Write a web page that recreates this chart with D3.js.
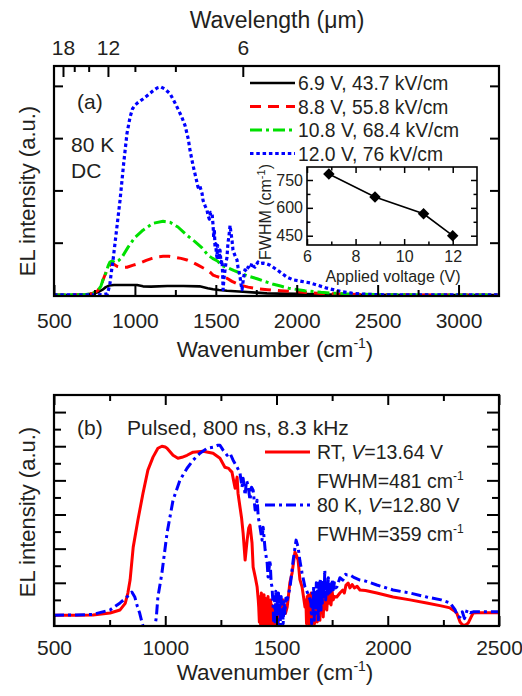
<!DOCTYPE html>
<html>
<head>
<meta charset="utf-8">
<script src="https://cdn.jsdelivr.net/npm/d3@7"></script>
<style>
  body { margin: 0; background: #fff; }
  svg text { font-family: "Liberation Sans", Arial, sans-serif; fill: #231f20; }
</style>
</head>
<body>
<svg id="fig" width="522" height="696"></svg>
<script>
// ---------- data: DC electroluminescence at 80 K (wavenumber cm^-1, intensity a.u.) ----------
const dc69 = [[500,0],[650,0.003],[700,0.01],[740,0.025],[770,0.05],[800,0.1],[820,0.15],[840,0.18],[870,0.19],[950,0.19],[1013,0.19],[1050,0.165],[1100,0.16],[1200,0.17],[1300,0.17],[1400,0.165],[1450,0.13],[1483,0.11],[1520,0.095],[1569,0.08],[1668,0.06],[1750,0.045],[1816,0.03],[1900,0.025],[2000,0.02],[2200,0.01],[2400,0.004],[2700,0],[3250,0]];
const dc88 = [[500,0],[650,0.003],[700,0.01],[740,0.03],[770,0.08],[790,0.17],[803,0.29],[820,0.42],[840,0.55],[858,0.61],[889,0.55],[920,0.53],[951,0.53],[990,0.57],[1032,0.61],[1070,0.66],[1106,0.70],[1140,0.73],[1174,0.74],[1210,0.74],[1248,0.72],[1285,0.70],[1322,0.67],[1360,0.62],[1390,0.57],[1420,0.52],[1446,0.48],[1470,0.42],[1483,0.38],[1500,0.36],[1530,0.33],[1569,0.32],[1600,0.26],[1650,0.19],[1700,0.15],[1755,0.12],[1820,0.10],[1900,0.08],[2000,0.06],[2144,0.03],[2300,0.015],[2500,0.005],[2800,0],[3250,0]];
const dc108 = [[500,0],[650,0.003],[700,0.01],[740,0.03],[770,0.08],[790,0.17],[803,0.29],[820,0.42],[835,0.56],[846,0.63],[860,0.65],[877,0.62],[900,0.66],[920,0.72],[957,0.91],[1000,1.10],[1050,1.24],[1112,1.37],[1174,1.41],[1217,1.39],[1266,1.30],[1322,1.14],[1371,1.02],[1415,0.90],[1452,0.76],[1480,0.70],[1510,0.65],[1540,0.56],[1575,0.52],[1610,0.47],[1650,0.42],[1700,0.36],[1755,0.31],[1800,0.26],[1850,0.21],[1900,0.17],[1950,0.13],[2050,0.08],[2150,0.05],[2300,0.02],[2500,0.007],[2800,0],[3250,0]];
const dc120 = [[500,0],[700,0],[800,0.005],[830,0.02],[845,0.2],[855,0.45],[865,0.67],[885,1.2],[908,1.81],[930,2.5],[951,3.09],[970,3.40],[985,3.56],[1000,3.63],[1019,3.68],[1050,3.75],[1075,3.81],[1110,3.90],[1137,3.96],[1160,3.98],[1185,3.94],[1217,3.85],[1240,3.72],[1266,3.56],[1290,3.40],[1310,3.24],[1330,2.98],[1341,2.76],[1359,2.48],[1371,2.32],[1380,2.20],[1390,2.06],[1400,2.10],[1415,1.94],[1421,1.81],[1433,1.71],[1446,1.62],[1452,1.52],[1460,1.45],[1468,1.58],[1477,1.56],[1483,1.33],[1487,1.10],[1491,1.25],[1495,0.91],[1500,0.98],[1503,0.80],[1507,0.72],[1511,0.95],[1515,0.80],[1520,0.68],[1526,0.86],[1532,0.62],[1538,0.67],[1542,0.42],[1545,0.10],[1550,0.30],[1557,0.48],[1563,0.62],[1569,0.72],[1575,0.99],[1582,1.15],[1588,1.33],[1594,1.18],[1600,1.05],[1606,0.86],[1615,0.78],[1625,0.70],[1631,0.67],[1637,0.53],[1645,0.42],[1650,0.34],[1655,0.22],[1662,0.10],[1670,0.30],[1680,0.48],[1690,0.45],[1699,0.53],[1710,0.50],[1724,0.61],[1732,0.55],[1742,0.53],[1750,0.58],[1761,0.63],[1775,0.60],[1792,0.61],[1810,0.60],[1835,0.57],[1878,0.48],[1940,0.34],[1977,0.29],[2030,0.26],[2082,0.23],[2135,0.18],[2187,0.13],[2240,0.09],[2286,0.06],[2340,0.035],[2391,0.02],[2500,0.005],[2700,0],[3250,0]];

// ---------- data: pulsed operation, normalised ----------
const pulsedRT = [[500,0.01],[600,0.01],[675,0.012],[752,0.023],[797,0.041],[820,0.08],[832,0.14],[842,0.216],[856,0.409],[877,0.567],[900,0.725],[922,0.86],[945,0.936],[967,0.988],[985,1.0],[1000,0.995],[1008,0.988],[1035,0.947],[1057,0.93],[1075,0.935],[1098,0.947],[1125,0.965],[1170,0.971],[1215,0.959],[1246,0.93],[1268,0.877],[1285,0.87],[1291,0.86],[1300,0.848],[1305,0.813],[1314,0.754],[1323,0.819],[1327,0.725],[1336,0.643],[1343,0.58],[1350,0.491],[1359,0.333],[1368,0.45],[1375,0.52],[1381,0.538],[1390,0.433],[1395,0.292],[1405,0.23],[1413,0.175],[1418,0.10],[1420,0.06],[1423,-0.03],[1426,0.12],[1429,-0.06],[1432,0.14],[1435,-0.02],[1438,0.10],[1441,-0.07],[1444,0.13],[1447,0.0],[1450,0.11],[1453,-0.06],[1456,0.08],[1459,-0.03],[1462,0.12],[1465,-0.07],[1468,0.09],[1471,0.0],[1474,0.10],[1477,-0.06],[1480,0.07],[1483,-0.04],[1486,0.06],[1489,-0.08],[1492,0.05],[1495,-0.02],[1498,0.07],[1501,-0.05],[1504,0.04],[1508,-0.03],[1512,0.06],[1516,0.058],[1523,0.02],[1530,0.10],[1540,0.02],[1548,0.058],[1560,0.20],[1570,0.257],[1583,0.38],[1590,0.36],[1597,0.333],[1605,0.22],[1615,0.175],[1628,0.058],[1632,0.10],[1635,-0.04],[1638,0.12],[1641,0.0],[1644,0.13],[1647,-0.05],[1650,0.10],[1653,0.02],[1656,0.14],[1659,-0.05],[1662,0.11],[1665,0.0],[1668,0.13],[1671,-0.04],[1674,0.12],[1677,0.02],[1680,0.14],[1683,-0.03],[1686,0.10],[1689,0.03],[1692,0.15],[1695,-0.02],[1698,0.12],[1702,0.04],[1706,0.14],[1710,0.0],[1714,0.12],[1718,0.05],[1722,0.14],[1726,0.04],[1730,0.13],[1735,0.08],[1740,0.15],[1745,0.07],[1750,0.15],[1755,0.10],[1760,0.12],[1771,0.117],[1785,0.14],[1798,0.158],[1805,0.14],[1812,0.185],[1822,0.199],[1830,0.17],[1840,0.19],[1850,0.17],[1862,0.18],[1875,0.158],[1900,0.155],[1951,0.14],[2024,0.117],[2100,0.10],[2175,0.082],[2240,0.065],[2280,0.053],[2300,0.035],[2310,0.023],[2325,-0.03],[2335,-0.045],[2348,-0.05],[2362,-0.035],[2375,0.0],[2384,0.023],[2400,0.025],[2500,0.025]];
const pulsed80K = [[500,0.01],[600,0.012],[675,0.015],[752,0.041],[797,0.082],[828,0.117],[850,0.146],[863,0.117],[875,0.06],[885,0.023],[897,-0.04],[910,-0.09],[930,-0.15],[950,-0.09],[960,0.0],[967,0.117],[985,0.257],[1008,0.491],[1035,0.684],[1066,0.801],[1098,0.871],[1125,0.918],[1156,0.959],[1188,0.988],[1215,0.994],[1235,1.005],[1246,1.006],[1260,0.977],[1278,0.947],[1291,0.959],[1305,0.918],[1323,0.877],[1336,0.842],[1345,0.76],[1350,0.813],[1359,0.713],[1365,0.80],[1372,0.772],[1381,0.684],[1388,0.76],[1395,0.743],[1404,0.626],[1413,0.684],[1418,0.585],[1426,0.526],[1435,0.45],[1440,0.526],[1449,0.392],[1458,0.316],[1462,0.234],[1471,0.333],[1476,0.20],[1480,0.175],[1485,0.058],[1488,-0.06],[1491,0.12],[1494,-0.04],[1497,0.15],[1500,0.0],[1503,0.10],[1506,-0.06],[1509,0.14],[1512,0.02],[1515,0.09],[1518,-0.05],[1521,0.12],[1524,0.0],[1527,0.08],[1530,-0.04],[1534,0.10],[1538,0.02],[1542,0.11],[1548,0.10],[1561,0.175],[1575,0.333],[1588,0.45],[1597,0.409],[1605,0.33],[1615,0.257],[1628,0.175],[1640,0.14],[1651,0.10],[1655,0.08],[1658,-0.04],[1661,0.14],[1664,0.03],[1667,0.18],[1670,-0.02],[1673,0.16],[1676,0.04],[1679,0.20],[1682,0.02],[1685,0.17],[1688,-0.03],[1691,0.20],[1694,0.06],[1697,0.22],[1700,0.04],[1703,0.19],[1706,0.08],[1710,0.22],[1714,0.12],[1717,0.275],[1721,0.10],[1725,0.20],[1729,0.12],[1733,0.23],[1737,0.14],[1740,0.20],[1745,0.15],[1750,0.22],[1755,0.16],[1760,0.20],[1766,0.17],[1771,0.175],[1785,0.23],[1798,0.216],[1810,0.25],[1817,0.246],[1830,0.246],[1850,0.23],[1875,0.216],[1900,0.21],[1951,0.187],[2024,0.158],[2100,0.14],[2175,0.117],[2240,0.10],[2280,0.082],[2303,0.041],[2315,0.0],[2325,0.0],[2335,0.03],[2345,-0.01],[2357,0.041],[2370,0.025],[2384,0.03],[2500,0.03]];

// ---------- data: inset, FWHM vs applied voltage ----------
const voltages = [6.9, 8.8, 10.8, 12.0];
const fields = [43.7, 55.8, 68.4, 76];
const fwhm = [782, 659, 568, 450];

// ---------- tick values ----------
const wnTicksA = [500, 1000, 1500, 2000, 2500, 3000];
const wnMinorA = [750, 1250, 1750, 2250, 2750];
const wlMajor = [18, 12, 6];
const wlMinor = [16, 14, 10, 8];
const intTicksA = [1, 2, 3, 4];
const wnTicksB = [500, 1000, 1500, 2000, 2500];
const wnMinorB = [750, 1250, 1750, 2250];
const intMajorB = [0.2, 0.4, 0.6, 0.8, 1.0, 1.2];
const intMinorB = [0.1, 0.3, 0.5, 0.7, 0.9, 1.1];
const vTicks = [6, 8, 10, 12];
const vMinor = [7, 9, 11];
const fTicks = [450, 600, 750];
const fMinor = [525, 675];

const svg = d3.select("#fig");
const FONT = "\"Liberation Sans\", Arial, sans-serif";

const A = { l: 54, r: 499, t: 66, b: 296 };
const B = { l: 54, r: 499, t: 395, b: 626 };

const xA = d3.scaleLinear().domain([500, 3250]).range([A.l, A.r]);
const yA = d3.scaleLinear().domain([-0.02, 4.38]).range([A.b, A.t]);
const xB = d3.scaleLinear().domain([500, 2500]).range([B.l, B.r]);
const yB = d3.scaleLinear().domain([-0.053, 1.30]).range([B.b, B.t]);

// inward tick marks (and optional outside labels) built with d3.axis
function ticks(gen, scale, values, len, tr, opts = {}) {
  const ax = gen(scale).tickValues(values).tickSizeInner(-len).tickSizeOuter(0)
    .tickPadding(opts.pad || 0).tickFormat(opts.fmt || (() => ""));
  const g = svg.append("g").attr("transform", tr).call(ax)
    .attr("font-family", FONT).attr("font-size", opts.fs || 21);
  g.select(".domain").remove();
  g.selectAll(".tick line").attr("stroke", "#000").attr("stroke-width", opts.sw || 2);
  g.selectAll(".tick text").attr("fill", "#231f20");
  return g;
}

function clip(id, f) {
  svg.append("clipPath").attr("id", id).append("rect")
    .attr("x", f.l).attr("y", f.t).attr("width", f.r - f.l).attr("height", f.b - f.t);
}
clip("clipA", A);
clip("clipB", B);

// ================= panel (a) =================
const lineA = d3.line().x(d => xA(d[0])).y(d => yA(d[1])).curve(d3.curveLinear);
const seriesA = [
  { data: dc69, color: "#000000", dash: null, w: 2.6 },
  { data: dc88, color: "#ff0000", dash: "11,7", w: 3 },
  { data: dc108, color: "#00e000", dash: "12,4,3,4", w: 3 },
  { data: dc120, color: "#0000ff", dash: "3.5,2.8", w: 3.2 }
];
const gA = svg.append("g").attr("clip-path", "url(#clipA)");
seriesA.forEach(s => {
  gA.append("path").datum(s.data).attr("d", lineA)
    .attr("fill", "none").attr("stroke", s.color).attr("stroke-width", s.w)
    .attr("stroke-dasharray", s.dash).attr("stroke-linejoin", "round");
});

ticks(d3.axisBottom, xA, wnTicksA, 11, `translate(0,${A.b})`, { pad: 17, fmt: d3.format("d") });
ticks(d3.axisBottom, xA, wnMinorA, 6, `translate(0,${A.b})`);
ticks(d3.axisTop, xA, wlMajor.map(l => 1e4 / l), 11, `translate(0,${A.t})`,
  { pad: 11, fmt: d => String(Math.round(1e4 / d)) });
ticks(d3.axisTop, xA, wlMinor.map(l => 1e4 / l), 6, `translate(0,${A.t})`);
ticks(d3.axisLeft, yA, intTicksA, 9, `translate(${A.l},0)`);
ticks(d3.axisRight, yA, intTicksA, 9, `translate(${A.r},0)`);

svg.append("rect").attr("x", A.l).attr("y", A.t).attr("width", A.r - A.l).attr("height", A.b - A.t)
  .attr("fill", "none").attr("stroke", "#000").attr("stroke-width", 2.2);

// legend (a)
seriesA.forEach((s, i) => {
  const y = 83 + i * 23.5;
  svg.append("line").attr("x1", 250).attr("x2", 295).attr("y1", y).attr("y2", y)
    .attr("stroke", s.color).attr("stroke-width", s.w).attr("stroke-dasharray", s.dash);
  svg.append("text").attr("x", 298).attr("y", y + 7).attr("font-size", 19.3)
    .text(`${voltages[i].toFixed(1)} V, ${fields[i]} kV/cm`);
});

svg.append("text").attr("x", 77).attr("y", 109).attr("font-size", 21).text("(a)");
svg.append("text").attr("x", 71).attr("y", 152).attr("font-size", 21).text("80 K");
svg.append("text").attr("x", 71).attr("y", 178).attr("font-size", 21).text("DC");

// inset
const I = { l: 307, r: 477, t: 167, b: 245 };
const xI = d3.scaleLinear().domain([6, 13]).range([I.l, I.r]);
const yI = d3.scaleLinear().domain([400, 820]).range([I.b, I.t]);
svg.append("rect").attr("x", I.l).attr("y", I.t).attr("width", I.r - I.l).attr("height", I.b - I.t)
  .attr("fill", "#fff");
ticks(d3.axisBottom, xI, vTicks, 6, `translate(0,${I.b})`, { pad: 6, fs: 16, sw: 1.5, fmt: d3.format("d") });
ticks(d3.axisBottom, xI, vMinor, 3.5, `translate(0,${I.b})`, { sw: 1.5 });
ticks(d3.axisTop, xI, vTicks, 6, `translate(0,${I.t})`, { sw: 1.5 });
ticks(d3.axisTop, xI, vMinor, 3.5, `translate(0,${I.t})`, { sw: 1.5 });
ticks(d3.axisLeft, yI, fTicks, 6, `translate(${I.l},0)`, { pad: 4, fs: 16, sw: 1.5, fmt: d3.format("d") });
ticks(d3.axisLeft, yI, fMinor, 3.5, `translate(${I.l},0)`, { sw: 1.5 });
ticks(d3.axisRight, yI, fTicks, 6, `translate(${I.r},0)`, { sw: 1.5 });
ticks(d3.axisRight, yI, fMinor, 3.5, `translate(${I.r},0)`, { sw: 1.5 });
svg.append("rect").attr("x", I.l).attr("y", I.t).attr("width", I.r - I.l).attr("height", I.b - I.t)
  .attr("fill", "none").attr("stroke", "#000").attr("stroke-width", 1.6);

const inset = voltages.map((v, i) => [v, fwhm[i]]);
svg.append("path").datum(inset)
  .attr("d", d3.line().x(d => xI(d[0])).y(d => yI(d[1])))
  .attr("fill", "none").attr("stroke", "#000").attr("stroke-width", 1.6);
const diamond = d3.symbol().type(d3.symbolSquare).size(66);
svg.selectAll(".dia").data(inset).join("path").attr("class", "dia")
  .attr("d", diamond)
  .attr("transform", d => `translate(${xI(d[0])},${yI(d[1])}) rotate(45)`)
  .attr("fill", "#000");

svg.append("text").attr("x", 393).attr("y", 282).attr("text-anchor", "middle").attr("font-size", 16)
  .text("Applied voltage (V)");
const fl = svg.append("text").attr("transform", "translate(271,212) rotate(-90)")
  .attr("text-anchor", "middle").attr("font-size", 16);
fl.append("tspan").text("FWHM (cm");
fl.append("tspan").attr("dy", -6).attr("font-size", 11).text("-1");
fl.append("tspan").attr("dy", 6).text(")");

// axis titles
svg.append("text").attr("x", 277).attr("y", 28).attr("text-anchor", "middle").attr("font-size", 23)
  .text("Wavelength (\u03bcm)");

function wnTitle(y) {
  const t = svg.append("text").attr("x", 275).attr("y", y).attr("text-anchor", "middle").attr("font-size", 22.5);
  t.append("tspan").text("Wavenumber (cm");
  t.append("tspan").attr("dy", -9).attr("font-size", 14).text("-1");
  t.append("tspan").attr("dy", 9).text(")");
}
function intTitle(cy) {
  svg.append("text").attr("transform", `translate(35,${cy}) rotate(-90)`)
    .attr("text-anchor", "middle").attr("font-size", 22).text("EL intensity (a.u.)");
}
wnTitle(357);
intTitle(191);

// ================= panel (b) =================
const lineB = d3.line().x(d => xB(d[0])).y(d => yB(d[1]));
const seriesB = [
  { data: pulsedRT, color: "#ff0000", dash: null, w: 3 },
  { data: pulsed80K, color: "#0000ff", dash: "10,4,3,4", w: 3 }
];
const gB = svg.append("g").attr("clip-path", "url(#clipB)");
seriesB.forEach(s => {
  gB.append("path").datum(s.data).attr("d", lineB)
    .attr("fill", "none").attr("stroke", s.color).attr("stroke-width", s.w)
    .attr("stroke-dasharray", s.dash).attr("stroke-linejoin", "round");
});

ticks(d3.axisBottom, xB, wnTicksB, 10, `translate(0,${B.b})`, { pad: 14, fmt: d3.format("d") });
ticks(d3.axisBottom, xB, wnMinorB, 6, `translate(0,${B.b})`);
ticks(d3.axisTop, xB, wnTicksB, 10, `translate(0,${B.t})`);
ticks(d3.axisTop, xB, wnMinorB, 6, `translate(0,${B.t})`);
ticks(d3.axisLeft, yB, intMajorB, 12, `translate(${B.l},0)`);
ticks(d3.axisLeft, yB, intMinorB, 7, `translate(${B.l},0)`);
ticks(d3.axisRight, yB, intMajorB, 12, `translate(${B.r},0)`);
ticks(d3.axisRight, yB, intMinorB, 7, `translate(${B.r},0)`);

svg.append("rect").attr("x", B.l).attr("y", B.t).attr("width", B.r - B.l).attr("height", B.b - B.t)
  .attr("fill", "none").attr("stroke", "#000").attr("stroke-width", 2.2);

svg.append("text").attr("x", 77).attr("y", 435).attr("font-size", 21).text("(b)");
svg.append("text").attr("x", 127).attr("y", 435).attr("font-size", 21).text("Pulsed, 800 ns, 8.3 kHz");

// legend (b)
const legB = [
  { s: seriesB[0], lead: "RT, ", volt: "=13.64 V", fw: 481, y: 452 },
  { s: seriesB[1], lead: "80 K, ", volt: "=12.80 V", fw: 359, y: 505 }
];
legB.forEach(d => {
  svg.append("line").attr("x1", 265).attr("x2", 310).attr("y1", d.y).attr("y2", d.y)
    .attr("stroke", d.s.color).attr("stroke-width", d.s.w).attr("stroke-dasharray", d.s.dash);
  const t = svg.append("text").attr("x", 317).attr("y", d.y + 7).attr("font-size", 19.5);
  t.append("tspan").text(d.lead);
  t.append("tspan").attr("font-style", "italic").text("V");
  t.append("tspan").text(d.volt);
  const f = svg.append("text").attr("x", 317).attr("y", d.y + 36).attr("font-size", 19.5);
  f.append("tspan").text(`FWHM=${d.fw} cm`);
  f.append("tspan").attr("dy", -8).attr("font-size", 12).text("-1");
});

wnTitle(680);
intTitle(512);
</script>
</body>
</html>
